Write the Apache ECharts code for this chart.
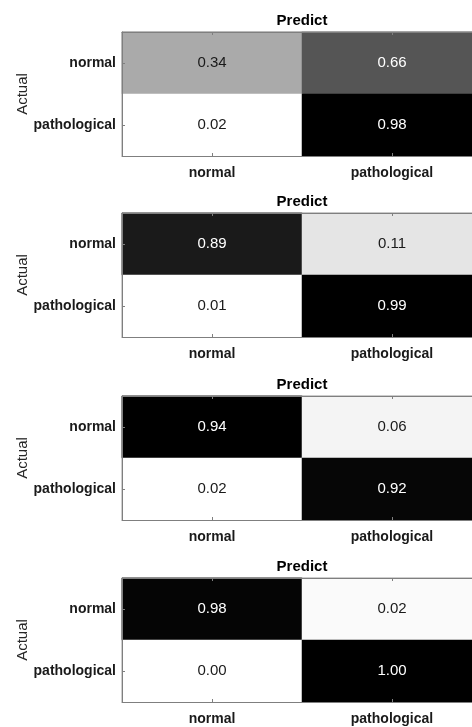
<!DOCTYPE html>
<html>
<head>
<meta charset="utf-8">
<style>
  html, body { margin: 0; padding: 0; background: #fff; }
  #chart { width: 472px; height: 727px; }
</style>
<script src="https://cdn.jsdelivr.net/npm/echarts@6/dist/echarts.min.js"></script>
</head>
<body>
<div id="chart"></div>
<script>
// Class names shared by both axes of every matrix
const classNames = ['normal', 'pathological'];

// Normalized confusion matrices: rows = actual class, columns = predicted class
const matrixA = [[0.34, 0.66], [0.02, 0.98]];
const matrixB = [[0.89, 0.11], [0.01, 0.99]];
const matrixC = [[0.94, 0.06], [0.02, 0.92]];
const matrixD = [[0.98, 0.02], [0.00, 1.00]];

const matrices = [matrixA, matrixB, matrixC, matrixD];
const gridTops = [32, 213, 396, 578];
const gridHeight = 124;

const FONT = '"Liberation Sans", Arial, sans-serif';
const frameColor = '#7f7f7f';

const grids = [], xAxes = [], yAxes = [], series = [], visualMaps = [];

matrices.forEach((m, i) => {
  const flat = m.flat();
  const maxVal = Math.max(...flat);
  const minVal = Math.min(...flat);
  // the plot box runs a little past the right edge of the canvas
  grids.push({
    left: 122, width: 360, top: gridTops[i], height: gridHeight,
    outerBoundsMode: 'none', containLabel: false,
    show: true, borderColor: frameColor, borderWidth: 1, backgroundColor: 'transparent'
  });
  // bottom axis with class labels
  xAxes.push({
    type: 'category', gridIndex: i, data: classNames, position: 'bottom',
    axisLine: { show: true, lineStyle: { color: frameColor } },
    axisTick: { show: true, inside: true, alignWithLabel: true, length: 3, lineStyle: { color: frameColor } },
    axisLabel: { color: '#1a1a1a', fontFamily: FONT, fontSize: 14, fontWeight: 'bold', margin: 10 },
    splitLine: { show: false }, z: 5
  });
  // top axis carrying the "Predict" title and mirrored ticks
  xAxes.push({
    type: 'category', gridIndex: i, data: classNames, position: 'top',
    name: 'Predict', nameLocation: 'middle', nameGap: 4, nameMoveOverlap: false,
    nameTextStyle: { color: '#000', fontFamily: FONT, fontSize: 15, fontWeight: 'bold' },
    axisLine: { show: true, lineStyle: { color: frameColor } },
    axisTick: { show: true, inside: true, alignWithLabel: true, length: 3, lineStyle: { color: frameColor } },
    axisLabel: { show: false }, splitLine: { show: false }, z: 5
  });
  yAxes.push({
    type: 'category', gridIndex: i, data: classNames, inverse: true, position: 'left',
    name: 'Actual', nameLocation: 'middle', nameGap: 92, nameRotate: 90, nameMoveOverlap: false,
    nameTextStyle: { color: '#262626', fontFamily: FONT, fontSize: 15 },
    axisLine: { show: true, lineStyle: { color: frameColor } },
    axisTick: { show: true, inside: true, alignWithLabel: true, length: 3, lineStyle: { color: frameColor } },
    axisLabel: { color: '#1a1a1a', fontFamily: FONT, fontSize: 14, fontWeight: 'bold', margin: 6 },
    splitLine: { show: false }, z: 5
  });
  const data = [];
  m.forEach((row, r) => row.forEach((v, c) => {
    const t = (v - minVal) / (maxVal - minVal);
    data.push({
      value: [c, r, v],
      label: { color: t > 0.5 ? '#ffffff' : '#1a1a1a' }
    });
  }));
  series.push({
    type: 'heatmap', xAxisIndex: 2 * i, yAxisIndex: i, data: data,
    label: {
      show: true, fontFamily: FONT, fontSize: 15,
      formatter: p => p.value[2].toFixed(2)
    },
    itemStyle: { borderWidth: 0 },
    emphasis: { disabled: true }
  });
  visualMaps.push({
    show: false, seriesIndex: i, dimension: 2, min: minVal, max: maxVal,
    inRange: { color: ['#ffffff', '#000000'] }
  });
});

const chart = echarts.init(document.getElementById('chart'), null, { renderer: 'canvas' });
chart.setOption({
  animation: false,
  backgroundColor: '#ffffff',
  grid: grids, xAxis: xAxes, yAxis: yAxes,
  visualMap: visualMaps, series: series
});
</script>
</body>
</html>
